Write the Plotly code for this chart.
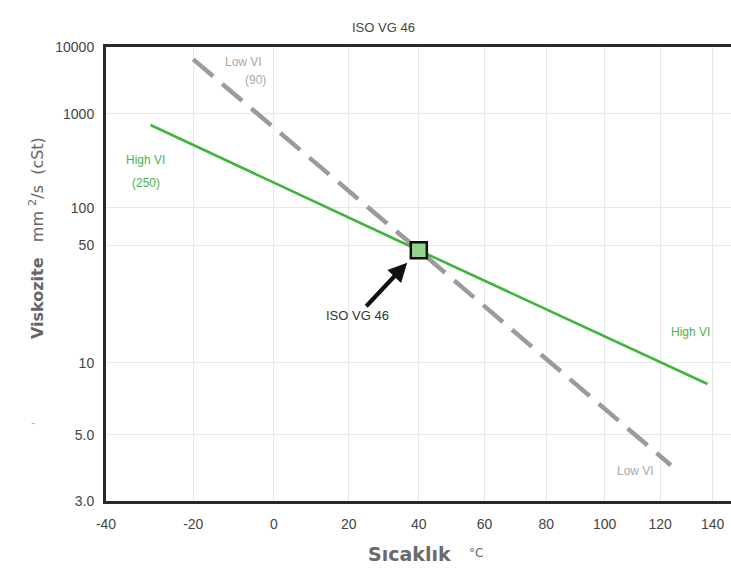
import numpy as np
import plotly.graph_objects as go

# ---------------- data ----------------
temp_ticks = [-40, -20, 0, 20, 40, 60, 80, 100, 120, 140]
visc_ticks = [10000, 1000, 100, 50, 10, 5, 3]
visc_tick_labels = ["10000", "1000", "100", "50", "10", "5.0", "3.0"]

high_vi_temp = [-30, 40, 138]
high_vi_visc = [724, 46, 8.0]

low_vi_temp = [-20, 40, 124]
low_vi_visc = [6200, 46, 3.9]

iso_temp = [40]
iso_visc = [46]

x_min_temp, x_max_temp = -40, 147.2
y_min_visc, y_max_visc = 3, 10000


# Walther-type chart scales (log absolute temperature, log-log viscosity)
def tx(t):
    return np.log10(np.asarray(t, dtype=float) + 273.15)


def wy(v):
    return np.log10(np.log10(np.asarray(v, dtype=float) + 0.7))


W, H = 731, 568
L, R, T, B = 106, 0, 47, 67


def px(x, y):
    return (x - L) / (W - L - R), (H - B - y) / (H - T - B)


fig = go.Figure()

fig.add_trace(go.Scatter(
    x=tx(low_vi_temp), y=wy(low_vi_visc), mode="lines",
    line=dict(color="#9b9b9b", width=4.5, dash="26px,12px"),
    hoverinfo="skip", showlegend=False))

fig.add_trace(go.Scatter(
    x=tx(high_vi_temp), y=wy(high_vi_visc), mode="lines",
    line=dict(color="#3fb53a", width=2.6),
    hoverinfo="skip", showlegend=False))

fig.add_trace(go.Scatter(
    x=tx(iso_temp), y=wy(iso_visc), mode="markers",
    marker=dict(symbol="square", size=16, color="#93d38c",
                line=dict(color="#111111", width=2.5)),
    hoverinfo="skip", showlegend=False))

ann = []


def label(text, x, y, color, size=12, xanchor="center", family="Liberation Sans, Arial"):
    xp, yp = px(x, y)
    ann.append(dict(text=text, x=xp, y=yp, xref="paper", yref="paper",
                    showarrow=False, xanchor=xanchor, yanchor="middle",
                    font=dict(family=family, size=size, color=color)))


label("Low VI", 264, 62, "#a8a8a8", 12, "right")
label("(90)", 268, 80, "#a8a8a8", 12, "right")
label("High VI", 145, 160, "#4cb548", 12)
label("(250)", 146, 183, "#4cb548", 12)
label("High VI", 690, 332, "#4cb548", 12)
label("Low VI", 635, 471, "#a8a8a8", 12)
label("-", 33, 423, "#b0b0b0", 12)

# title
label("ISO VG 46", 383, 27, "#444444", 13)

# arrow annotation to ISO VG 46 point
ann.append(dict(text="ISO VG 46", x=float(tx(iso_temp[0])), y=float(wy(iso_visc[0])),
                xref="x", yref="y", showarrow=True, ax=-61, ay=65,
                arrowhead=2, arrowsize=0.9, arrowwidth=4.2, arrowcolor="#111111",
                standoff=17,
                font=dict(family="Liberation Sans, Arial", size=13, color="#333333")))

# y axis title
yx, yy = px(36, 238)
ann.append(dict(text="<b>Viskozite</b>&nbsp;&nbsp;&nbsp;mm&nbsp;<sup>2</sup>/s&nbsp;&nbsp;(cSt)",
                x=yx, y=yy, xref="paper", yref="paper", showarrow=False,
                textangle=-90, xanchor="center", yanchor="middle",
                font=dict(family="DejaVu Sans", size=16, color="#666666")))

# x axis title (two pieces so the small unit sits at mid-height)
label("<b>Sıcaklık</b>", 409, 554, "#6a6a6a", 19, "center", "DejaVu Sans")
label("°C", 476, 553, "#6a6a6a", 12, "center", "DejaVu Sans")

fig.update_layout(
    width=W, height=H,
    margin=dict(l=L, r=R, t=T, b=B, pad=0),
    paper_bgcolor="white", plot_bgcolor="white",
    annotations=ann,
    showlegend=False,
    xaxis=dict(
        range=[float(tx(x_min_temp)), float(tx(x_max_temp))],
        tickvals=list(tx(temp_ticks)), ticktext=[str(t) for t in temp_ticks],
        showgrid=True, gridcolor="#e8e8e8", gridwidth=1,
        showline=True, linecolor="#2a2a2a", linewidth=3, mirror=True,
        ticks="", ticklabelstandoff=8, zeroline=False,
        tickfont=dict(family="Liberation Sans, Arial", size=14, color="#444444"),
    ),
    yaxis=dict(
        range=[float(wy(y_min_visc)), float(wy(y_max_visc))],
        tickvals=list(wy(visc_ticks)), ticktext=visc_tick_labels,
        showgrid=True, gridcolor="#e8e8e8", gridwidth=1,
        showline=True, linecolor="#2a2a2a", linewidth=3, mirror=False,
        ticks="", ticklabelstandoff=6, zeroline=False,
        tickfont=dict(family="Liberation Sans, Arial", size=14, color="#444444"),
    ),
)

fig.write_html("out.html")
